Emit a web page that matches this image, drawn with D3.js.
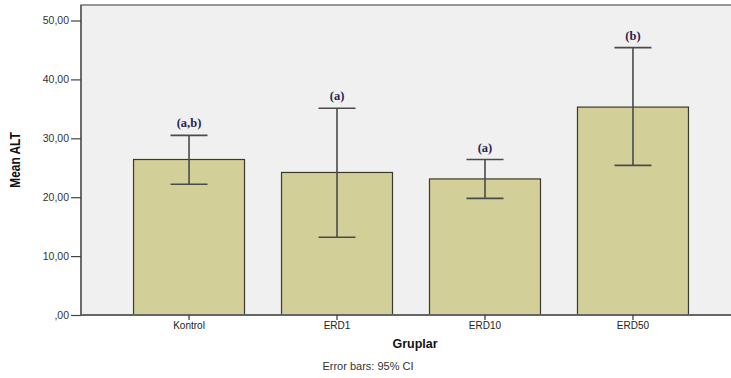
<!DOCTYPE html>
<html>
<head>
<meta charset="utf-8">
<script src="https://cdn.jsdelivr.net/npm/d3@7"></script>
<style>
  html, body { margin: 0; padding: 0; background: #ffffff; }
  svg { display: block; }
</style>
</head>
<body>
<svg id="chart" width="731" height="378"></svg>
<script>
// Mean ALT per group with 95% confidence intervals
const groups = ["Kontrol", "ERD1", "ERD10", "ERD50"];
const meanALT = [26.4, 24.2, 23.1, 35.3];
const ciLower = [22.2, 13.2, 19.8, 25.4];
const ciUpper = [30.5, 35.1, 26.4, 45.4];
const letters = ["(a,b)", "(a)", "(a)", "(b)"];
const yTicks = [0, 10, 20, 30, 40, 50];

const svg = d3.select("#chart");

const plot = { left: 81, right: 741, top: 5, bottom: 315 };

const x = d3.scaleBand()
  .domain(groups)
  .range([plot.left, plot.right])
  .paddingInner(0.25)
  .paddingOuter(0.355);

const y = d3.scaleLinear()
  .domain([0, 50])
  .range([plot.bottom, 20.5]);

// plot background
svg.append("rect")
  .attr("x", plot.left).attr("y", plot.top)
  .attr("width", plot.right - plot.left)
  .attr("height", plot.bottom - plot.top)
  .attr("fill", "#f0f0f0")
  .attr("stroke", "#777")
  .attr("stroke-width", 1.5);

// bars
svg.append("g").selectAll("rect")
  .data(groups)
  .join("rect")
  .attr("x", d => x(d))
  .attr("y", (d, i) => y(meanALT[i]))
  .attr("width", x.bandwidth())
  .attr("height", (d, i) => y(0) - y(meanALT[i]))
  .attr("fill", "#d3cf98")
  .attr("stroke", "#3a3a30")
  .attr("stroke-width", 1.2);

// error bars
const capW = x.bandwidth() / 3;
const eb = svg.append("g")
  .attr("stroke", "#4a4a4a")
  .attr("stroke-width", 1.6);
groups.forEach((g, i) => {
  const cx = x(g) + x.bandwidth() / 2;
  eb.append("line")
    .attr("x1", cx).attr("x2", cx)
    .attr("y1", y(ciLower[i])).attr("y2", y(ciUpper[i]));
  eb.append("line")
    .attr("x1", cx - capW / 2).attr("x2", cx + capW / 2)
    .attr("y1", y(ciUpper[i])).attr("y2", y(ciUpper[i]));
  eb.append("line")
    .attr("x1", cx - capW / 2).attr("x2", cx + capW / 2)
    .attr("y1", y(ciLower[i])).attr("y2", y(ciLower[i]));
});

// significance letters above the upper caps
svg.append("g").selectAll("text")
  .data(groups)
  .join("text")
  .attr("x", d => x(d) + x.bandwidth() / 2)
  .attr("y", (d, i) => y(ciUpper[i]) - 8)
  .attr("text-anchor", "middle")
  .style("font-family", "\"Liberation Serif\", \"Times New Roman\", \"DejaVu Serif\", serif")
  .style("font-weight", "bold")
  .style("font-size", "12.5px")
  .attr("fill", "#2a2350")
  .text((d, i) => letters[i]);

// y axis
const fmt = v => {
  const s = d3.format(".2f")(v).replace(".", ",");
  return v === 0 ? s.replace(/^0/, "") : s;
};
const yAxis = svg.append("g")
  .attr("transform", `translate(${plot.left},0)`)
  .call(d3.axisLeft(y).tickValues(yTicks).tickFormat(fmt).tickSize(10).tickPadding(2));
yAxis.select(".domain").attr("stroke", "#666").attr("stroke-width", 1.8)
  .attr("d", `M0,${plot.top}V${plot.bottom}`);
yAxis.selectAll(".tick line").attr("stroke", "#444").attr("stroke-width", 1.2);
yAxis.selectAll(".tick text")
  .attr("font-family", "'Liberation Sans', Arial, sans-serif")
  .attr("font-size", 10.5)
  .attr("fill", "#333");

// x axis
const xAxis = svg.append("g")
  .attr("transform", `translate(0,${plot.bottom})`)
  .call(d3.axisBottom(x).tickSize(5).tickPadding(2));
xAxis.select(".domain").attr("stroke", "#666").attr("stroke-width", 1.8)
  .attr("d", `M${plot.left},0H${plot.right}`);
xAxis.selectAll(".tick line").attr("stroke", "#333").attr("stroke-width", 1.2);
xAxis.selectAll(".tick text")
  .attr("font-family", "'Liberation Sans', Arial, sans-serif")
  .attr("font-size", 10)
  .attr("fill", "#222");

// axis titles
svg.append("text")
  .attr("transform", "translate(20,160) rotate(-90) scale(0.85,1)")
  .attr("text-anchor", "middle")
  .attr("font-family", "'Liberation Sans', Arial, sans-serif")
  .attr("font-weight", "bold")
  .attr("font-size", 14)
  .attr("fill", "#111")
  .text("Mean ALT");

svg.append("text")
  .attr("x", 415).attr("y", 348)
  .attr("text-anchor", "middle")
  .attr("font-family", "'Liberation Sans', Arial, sans-serif")
  .attr("font-weight", "bold")
  .attr("font-size", 12.5)
  .attr("fill", "#111")
  .text("Gruplar");

svg.append("text")
  .attr("x", 368).attr("y", 370)
  .attr("text-anchor", "middle")
  .attr("font-family", "'Liberation Sans', Arial, sans-serif")
  .attr("font-size", 11)
  .attr("fill", "#333")
  .text("Error bars: 95% CI");
</script>
</body>
</html>
